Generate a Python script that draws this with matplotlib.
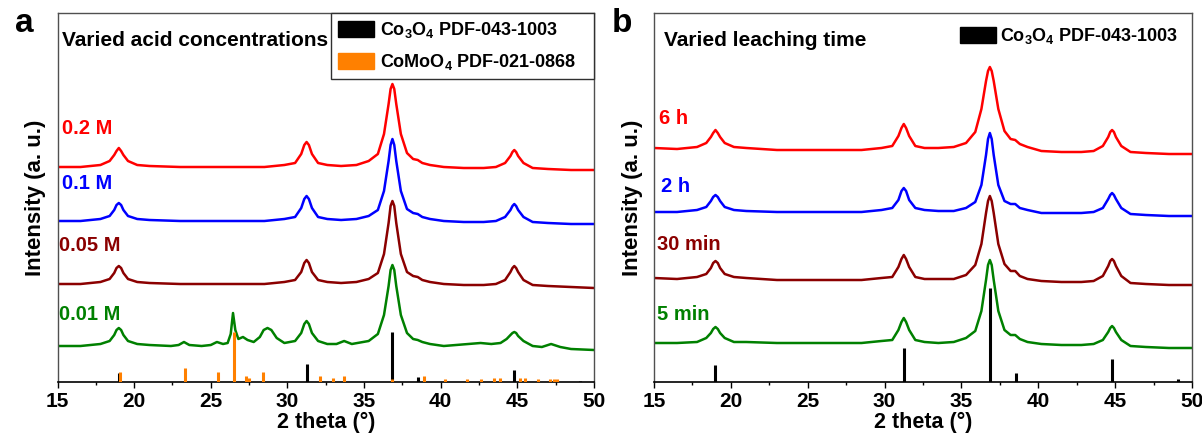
import matplotlib
matplotlib.use("Agg")
import matplotlib.pyplot as plt
from matplotlib.patches import Patch
from matplotlib.ticker import MultipleLocator

# 2 theta sampling used for the Co3O4 patterns
tt_co = [15.0, 16.5, 17.8, 18.4, 18.7, 18.85, 19.0, 19.15, 19.3, 19.6, 20.2, 21.0,
         23.0, 26.0, 28.5, 29.8, 30.5, 30.9, 31.1, 31.25, 31.4, 31.6, 32.0, 32.6,
         33.5, 34.5, 35.3, 35.9, 36.3, 36.6, 36.73, 36.85, 36.97, 37.1, 37.4, 37.8,
         38.2, 38.5, 38.8, 39.3, 40.2, 41.5, 42.8, 43.6, 44.2, 44.55, 44.68, 44.8,
         44.92, 45.05, 45.4, 46.0, 47.0, 48.5, 50.0]

# panel a : varied acid concentration
acid_02 = [10, 10, 12, 16, 22, 26, 29, 26, 22, 16, 12, 11, 10, 10, 10, 12, 14, 23, 32, 35,
           32, 23, 14, 12, 11, 12, 16, 23, 43, 73, 88, 93, 88, 73, 43, 24, 18, 17, 14, 12,
           10, 9, 9, 10, 14, 21, 25, 27, 25, 21, 14, 9, 8, 7, 7]
acid_01 = [10, 10, 12, 15, 21, 26, 28, 26, 21, 15, 12, 11, 10, 10, 10, 12, 14, 23, 32, 35,
           32, 23, 14, 12, 11, 12, 15, 21, 40, 70, 86, 92, 86, 70, 40, 22, 18, 17, 14, 12,
           10, 9, 9, 10, 14, 21, 25, 27, 25, 21, 14, 9, 8, 7, 7]
acid_005 = [10, 10, 12, 15, 21, 26, 28, 26, 21, 15, 12, 11, 10, 10, 10, 12, 14, 22, 31, 34,
            31, 22, 14, 12, 11, 12, 15, 21, 40, 71, 88, 93, 88, 71, 40, 22, 18, 17, 14, 12,
            10, 9, 9, 10, 14, 22, 26, 28, 26, 22, 14, 9, 8, 7, 6]

# 0.01 M sample still contains CoMoO4, needs a finer grid
tt_mix = [15.0, 16.5, 17.8, 18.4, 18.7, 18.85, 19.0, 19.15, 19.3, 19.6, 20.2, 21.0,
          22.4, 22.9, 23.25, 23.6, 24.4, 25.0, 25.4, 25.8, 26.1, 26.3,
          26.45, 26.6, 26.8, 27.1, 27.4, 27.8, 28.2, 28.45, 28.7, 28.95,
          29.3, 29.8, 30.5, 30.9, 31.1, 31.25, 31.4, 31.6, 32.0, 32.6, 33.2, 33.7,
          34.2, 35.3, 35.9, 36.3, 36.6, 36.73, 36.85, 36.97, 37.1, 37.4, 37.8, 38.2,
          38.5, 38.8, 39.3, 40.2, 41.0, 41.8, 42.6, 43.3, 43.9, 44.3,
          44.55, 44.68, 44.8, 44.92, 45.05, 45.4, 46.0, 46.6, 47.2, 47.8, 48.5, 50.0]
acid_001 = [10, 10, 12, 15, 21, 26, 28, 26, 21, 15, 12, 11,
            10, 11, 14, 11, 10, 11, 14, 12, 13, 22,
            43, 26, 17, 19, 16, 14, 19, 26, 28, 26,
            18, 13, 15, 23, 32, 35, 32, 23, 15, 12, 12, 15,
            12, 15, 22, 41, 70, 86, 91, 86, 70, 41, 23, 17,
            16, 14, 12, 10, 11, 12, 13, 12, 13, 17,
            21, 23, 24, 23, 20, 15, 10, 9, 12, 9, 7, 6]

# panel b : varied leaching time
time_6h = [11, 10, 12, 16, 22, 26, 29, 26, 22, 16, 12, 11, 9, 9, 9, 11, 13, 23, 31, 35,
           31, 23, 13, 11, 11, 12, 16, 27, 50, 78, 88, 92, 88, 78, 50, 28, 20, 19, 15, 12,
           8, 7, 7, 8, 13, 22, 27, 29, 27, 22, 13, 7, 6, 5, 5]
time_2h = [10, 10, 12, 15, 21, 25, 27, 25, 21, 15, 12, 11, 10, 10, 10, 12, 14, 22, 31, 34,
           31, 22, 14, 12, 11, 11, 14, 20, 37, 67, 83, 89, 83, 67, 37, 21, 18, 18, 14, 12,
           9, 9, 9, 10, 14, 23, 27, 29, 27, 23, 14, 8, 7, 6, 6]
time_30min = [11, 10, 12, 15, 21, 26, 28, 26, 21, 15, 12, 11, 9, 9, 9, 11, 12, 22, 30, 34,
              30, 22, 12, 10, 10, 10, 14, 24, 45, 76, 88, 93, 88, 76, 45, 25, 18, 18, 13, 10,
              8, 7, 7, 8, 13, 23, 28, 30, 28, 23, 13, 6, 5, 4, 4]
time_5min = [10, 10, 11, 15, 20, 24, 26, 24, 20, 15, 11, 11, 10, 10, 10, 12, 13, 23, 31, 35,
             31, 23, 13, 11, 10, 11, 15, 22, 42, 73, 88, 93, 88, 73, 42, 23, 18, 18, 14, 11,
             9, 8, 8, 9, 13, 21, 25, 27, 25, 21, 13, 7, 6, 5, 5]

# reference cards (relative intensity, %)
co3o4_pos = [19.0, 31.27, 36.85, 38.55, 44.81, 49.09]
co3o4_int = [18, 36, 100, 10, 24, 3]
comoo4_pos = [19.1, 23.35, 25.5, 26.5, 27.3, 27.5, 28.4, 32.15, 33.0, 33.7, 36.8, 38.9,
              40.3, 41.7, 42.6, 43.5, 43.9, 45.15, 45.5, 46.35, 47.1, 47.4, 47.6]
comoo4_int = [20, 28, 20, 100, 13, 8, 20, 13, 8, 13, 7, 13,
              7, 7, 7, 8, 8, 8, 8, 7, 6, 7, 6]

labels_a = ['0.2 M', '0.1 M', '0.05 M', '0.01 M']
labels_b = ['6 h', '2 h', '30 min', '5 min']
colors = ['#ff0000', '#0000ff', '#8b0000', '#008000']
ORANGE = '#ff8000'

W, H = 1202, 436

plt.rcParams['font.family'] = ['Liberation Sans', 'DejaVu Sans']
plt.rcParams['mathtext.fontset'] = 'custom'
plt.rcParams['mathtext.rm'] = 'Liberation Sans:bold'
plt.rcParams['mathtext.bf'] = 'Liberation Sans:bold'
plt.rcParams['mathtext.default'] = 'bf'


def style_axes(ax):
    ax.set_xlim(15, 50)
    ax.set_ylim(0, 369)
    ax.set_yticks([])
    ax.xaxis.set_major_locator(MultipleLocator(5))
    ax.xaxis.set_minor_locator(MultipleLocator(2.5))
    ax.tick_params(axis='x', which='major', direction='out', length=4, width=1,
                   labelsize=15, pad=3)
    ax.tick_params(axis='x', which='minor', direction='out', length=2.5, width=1)
    for lab in ax.get_xticklabels():
        lab.set_fontweight('bold')
    for side in ['top', 'left', 'right']:
        ax.spines[side].set_color('#505050')
        ax.spines[side].set_linewidth(1)
    ax.spines['bottom'].set_linewidth(1.2)
    ax.set_xlabel('2 theta (°)', fontsize=15.5, fontweight='bold', labelpad=1)
    ax.set_ylabel('Intensity (a. u.)', fontsize=16, fontweight='bold', labelpad=8)


def main():
    fig = plt.figure(figsize=(W / 100, H / 100), dpi=100)
    ax_a = fig.add_axes([57.5 / W, 1 - 382 / H, 536.5 / W, 369 / H])
    ax_b = fig.add_axes([654 / W, 1 - 382 / H, 538 / W, 369 / H])

    # ---- panel a
    offs_a = [205, 151, 88, 26]
    series_a = [(tt_co, acid_02), (tt_co, acid_01), (tt_co, acid_005), (tt_mix, acid_001)]
    for (x, y), off, c in zip(series_a, offs_a, colors):
        ax_a.plot(x, [v + off for v in y], color=c, lw=1.8, zorder=2)
    ax_a.vlines(co3o4_pos, 0, [i * 0.5 for i in co3o4_int], color='black', lw=2.2, zorder=3)
    ax_a.vlines(comoo4_pos, 0, [i * 0.5 for i in comoo4_int], color=ORANGE, lw=2.2, zorder=3)
    style_axes(ax_a)

    # legend box spans from x=331 px to the right spine
    x0 = (331 - 57.5) / 536.5
    leg_a = ax_a.legend([Patch(facecolor='black', edgecolor='black'),
                         Patch(facecolor=ORANGE, edgecolor=ORANGE)],
                        [r'Co$_3$O$_4$ PDF-043-1003', r'CoMoO$_4$ PDF-021-0868'],
                        loc='upper left', bbox_to_anchor=(x0, 0.5, 1 - x0, 0.5),
                        mode='expand', borderaxespad=0, frameon=True, fancybox=False,
                        framealpha=1, edgecolor='#303030', handlelength=2.0,
                        handleheight=1.0, handletextpad=0.3, labelspacing=0.65,
                        borderpad=0.4, prop={'weight': 'bold', 'size': 13})
    leg_a.get_frame().set_linewidth(1)

    # ---- panel b
    offs_b = [223, 160, 93, 29]
    series_b = [time_6h, time_2h, time_30min, time_5min]
    for y, off, c in zip(series_b, offs_b, colors):
        ax_b.plot(tt_co, [v + off for v in y], color=c, lw=1.8, zorder=2)
    ax_b.vlines(co3o4_pos, 0, [i * 0.94 for i in co3o4_int], color='black', lw=2.2, zorder=3)
    style_axes(ax_b)

    ax_b.legend([Patch(facecolor='black', edgecolor='black')],
                [r'Co$_3$O$_4$ PDF-043-1003'],
                loc='upper left', bbox_to_anchor=((960 - 654) / 538, (382 - 26) / 369),
                borderaxespad=0, borderpad=0, frameon=False,
                handlelength=2.0, handleheight=1.0, handletextpad=0.2,
                prop={'weight': 'bold', 'size': 13})

    # ---- texts (figure pixel positions)
    def ftext(x, y, s, **kw):
        fig.text(x / W, 1 - y / H, s, va='center', **kw)

    ftext(24, 24, 'a', fontsize=24, fontweight='bold', ha='center')
    ftext(622, 24, 'b', fontsize=24, fontweight='bold', ha='center')
    ftext(62, 40, 'Varied acid concentrations', fontsize=15, fontweight='bold')
    ftext(664, 40, 'Varied leaching time', fontsize=15, fontweight='bold')

    for lab, y, x, c in zip(labels_a, [129, 183, 245, 314], [62, 62, 59, 59], colors):
        ftext(x, y, lab, fontsize=14.5, fontweight='bold', color=c)
    for lab, y, x, c in zip(labels_b, [118, 186, 244, 314], [659, 661, 657, 657], colors):
        ftext(x, y, lab, fontsize=14.5, fontweight='bold', color=c)

    fig.savefig('out.png', dpi=100)


if __name__ == "__main__":
    main()
